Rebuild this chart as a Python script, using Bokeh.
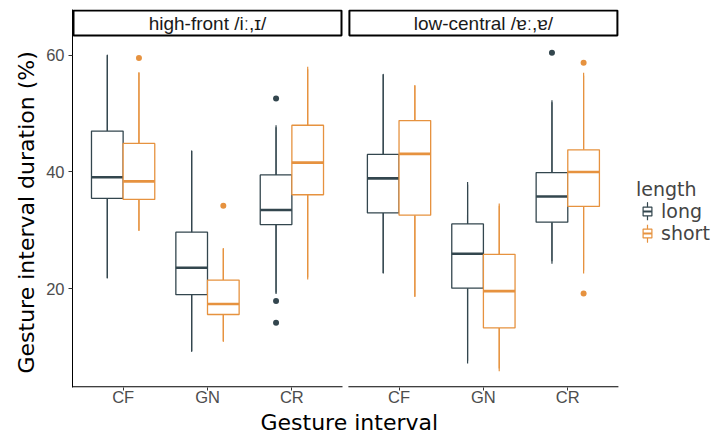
import numpy as np
import pandas as pd
from bokeh.plotting import figure
from bokeh.models import (ColumnDataSource, FixedTicker, Legend, LegendItem,
                          Label, BoxAnnotation, Range1d, Title)
from bokeh.embed import file_html
from bokeh.resources import INLINE

# ---------------- data ----------------
facets = ["high-front /iː,ɪ/", "low-central /ɐː,ɐ/"]
intervals = ["CF", "GN", "CR"]
lengths = ["long", "short"]

# one entry per box, ordered facet > interval > length
box_facet = ["high-front /iː,ɪ/"] * 6 + ["low-central /ɐː,ɐ/"] * 6
box_interval = ["CF", "CF", "GN", "GN", "CR", "CR"] * 2
box_length = ["long", "short"] * 6
whisker_low = [21.8, 30.0, 9.3, 11.0, 19.1, 21.6, 22.7, 18.7, 7.2, 5.9, 24.3, 22.6]
quart_low = [35.5, 35.3, 19.0, 15.6, 31.0, 36.1, 33.0, 32.6, 20.1, 13.3, 31.4, 34.1]
median = [39.1, 38.4, 23.6, 17.4, 33.5, 41.6, 38.9, 43.1, 26.0, 19.6, 35.8, 40.0]
quart_high = [47.0, 44.9, 29.7, 21.5, 39.5, 48.0, 43.0, 48.8, 31.1, 25.9, 39.9, 43.8]
whisker_high = [60.0, 57.0, 43.6, 26.9, 48.0, 58.0, 56.7, 54.8, 38.3, 34.6, 52.3, 57.0]

out_facet = ["high-front /iː,ɪ/"] * 5 + ["low-central /ɐː,ɐ/"] * 3
out_interval = ["CF", "GN", "CR", "CR", "CR", "CR", "CR", "CR"]
out_length = ["short", "short", "long", "long", "long", "long", "short", "short"]
out_value = [59.5, 34.2, 52.6, 17.9, 14.2, 60.4, 58.7, 19.2]

y_ticks = [20, 40, 60]
x_title = "Gesture interval"
y_title = "Gesture interval duration (%)"
legend_title = "length"

# ---------------- style / layout ----------------
FONT = "DejaVu Sans"
TICK_FONT = "Liberation Sans"
COLORS = {"long": "#33464E", "short": "#E6923F"}
W, H = 715, 435
BORDER_L, BORDER_R, BORDER_T, BORDER_B = 72, 0, 9, 48
FRAME_W = W - BORDER_L - BORDER_R
PANEL_H, STRIP_H = 351, 27
PANEL_SPAN = 3.2          # 3 categories + 0.6 expansion each side
GAP_U = 0.07              # gap between panels (x units)
PX_X = 270 / PANEL_SPAN   # px per x unit
X0 = 0.4
X1 = X0 + FRAME_W / PX_X  # frame also holds the legend area at the right
Y_LO, Y_HI = 3.1, 63.2
PX_Y = PANEL_H / (Y_HI - Y_LO)
Y_END = Y_HI + STRIP_H / PX_Y
BOX_W = 0.375
DODGE = {"long": -BOX_W / 2, "short": BOX_W / 2}
STRIDE = PANEL_SPAN + GAP_U

df = pd.DataFrame(dict(facet=box_facet, interval=box_interval, length=box_length,
                       lw=whisker_low, q1=quart_low, med=median, q3=quart_high,
                       uw=whisker_high))
df["x"] = [facets.index(f) * STRIDE + intervals.index(i) + 1 + DODGE[l]
           for f, i, l in zip(df.facet, df.interval, df.length)]
df["x0"] = df.x - BOX_W / 2
df["x1"] = df.x + BOX_W / 2
df["wmid"] = (df.lw + df.uw) / 2
df["wlen"] = df.uw - df.lw

odf = pd.DataFrame(dict(facet=out_facet, interval=out_interval, length=out_length,
                        value=out_value))
odf["x"] = [facets.index(f) * STRIDE + intervals.index(i) + 1 + DODGE[l]
            for f, i, l in zip(odf.facet, odf.interval, odf.length)]

p = figure(width=W, height=H, output_backend="svg", toolbar_location=None,
           x_range=Range1d(X0, X1), y_range=Range1d(Y_LO, Y_END),
           min_border_left=BORDER_L, min_border_right=BORDER_R,
           min_border_top=BORDER_T, min_border_bottom=BORDER_B)
p.outline_line_color = None
p.xgrid.grid_line_color = None
p.ygrid.grid_line_color = None
p.background_fill_color = "white"
p.border_fill_color = "white"

legend_r = {}
for l in lengths:
    src = ColumnDataSource(df[df.length == l])
    c = COLORS[l]
    p.segment(x0="x", x1="x", y0="q3", y1="uw", source=src, line_color=c, line_width=1.2)
    p.segment(x0="x", x1="x", y0="q1", y1="lw", source=src, line_color=c, line_width=1.2)
    # hairline-wide ellipse over the whiskers: gives the legend key its whisker line
    wk = p.ellipse(x="x", y="wmid", width=0.001, height="wlen", source=src,
                   fill_color=None, line_color=c, line_width=1.2)
    p.vbar(x="x", width=BOX_W, bottom="q1", top="q3", source=src,
           fill_color="white", line_color=c, line_width=1.3)
    p.segment(x0="x0", x1="x1", y0="med", y1="med", source=src,
              line_color=c, line_width=2.6)
    osrc = ColumnDataSource(odf[odf.length == l])
    p.scatter(x="x", y="value", source=osrc, size=6, color=c, line_width=0)
    # legend-only key parts (box + median)
    kb = p.scatter(x="x", y="med", source=src, marker="square", size=10,
                   fill_color="white", line_color=c, line_width=1.2, visible=False)
    km = p.scatter(x="x", y="med", source=src, marker="dash", size=10,
                   line_color=c, line_width=2, visible=False)
    legend_r[l] = [wk, kb, km]

# axes
centers = [k * STRIDE + j + 1 for k in range(len(facets)) for j in range(len(intervals))]
p.xaxis.ticker = FixedTicker(ticks=centers)
p.xaxis.major_label_overrides = {c: intervals[n % 3] for n, c in enumerate(centers)}
p.xaxis.axis_line_color = None
p.xaxis.major_tick_line_color = "#333333"
p.xaxis.major_tick_out = 3
p.xaxis.major_tick_in = 0
p.xaxis.minor_tick_line_color = None
p.xaxis.major_label_standoff = -3
p.xaxis.major_label_text_font = TICK_FONT
p.xaxis.major_label_text_font_size = "16.5px"
p.xaxis.major_label_text_color = "#4D4D4D"

p.yaxis.ticker = FixedTicker(ticks=y_ticks)
p.yaxis.axis_line_color = "black"
p.yaxis.axis_line_width = 1
p.yaxis.major_tick_line_color = "#333333"
p.yaxis.major_tick_out = 4
p.yaxis.major_tick_in = 0
p.yaxis.minor_tick_line_color = None
p.yaxis.major_label_standoff = 4
p.yaxis.major_label_text_font = TICK_FONT
p.yaxis.major_label_text_font_size = "16.5px"
p.yaxis.major_label_text_color = "#4D4D4D"

# panel bottom lines and facet strips
one_px_x = 1 / PX_X
one_px_y = 1 / PX_Y
for k, f in enumerate(facets):
    left = X0 + k * STRIDE
    right = left + PANEL_SPAN
    p.add_layout(BoxAnnotation(left=left, right=right, bottom=Y_LO, top=Y_LO + 1.3 * one_px_y,
                               fill_color="black", fill_alpha=1, line_color=None,
                               level="overlay"))
    p.add_layout(BoxAnnotation(left=left + one_px_x, right=right - one_px_x,
                               bottom=Y_HI + one_px_y, top=Y_END - one_px_y,
                               fill_color="white", fill_alpha=1, line_color="black",
                               line_alpha=1, line_width=2, level="overlay"))
    p.add_layout(Label(x=left + PANEL_SPAN / 2, y=(Y_HI + Y_END) / 2, text=f,
                       text_align="center", text_baseline="middle",
                       text_font=TICK_FONT, text_font_size="19px", text_color="#1A1A1A",
                       level="overlay"))

# axis titles (as side-panel titles so they can be offset like the reference)
p.add_layout(Title(text=x_title, align="left", offset=188, standoff=-2,
                   text_font=FONT, text_font_size="22px", text_font_style="normal",
                   text_color="black"), "below")
p.add_layout(Title(text=y_title, align="left", offset=14, standoff=10,
                   text_font=FONT, text_font_size="22px", text_font_style="normal",
                   text_color="black"), "left")

# legend (inside the widened frame, right of the panels)
legend = Legend(items=[LegendItem(label=l, renderers=legend_r[l]) for l in lengths],
                title=legend_title, location=(564, 143))
legend.title_text_font = FONT
legend.title_text_font_size = "19px"
legend.title_text_font_style = "normal"
legend.title_standoff = 0
legend.label_text_font = FONT
legend.label_text_font_size = "19px"
legend.glyph_width = 22
legend.glyph_height = 22
legend.label_height = 22
legend.label_standoff = 3
legend.spacing = 0
legend.padding = 0
legend.margin = 0
legend.border_line_color = None
legend.background_fill_alpha = 0
p.add_layout(legend, "center")

open("out.html", "w").write(file_html(p, INLINE))
